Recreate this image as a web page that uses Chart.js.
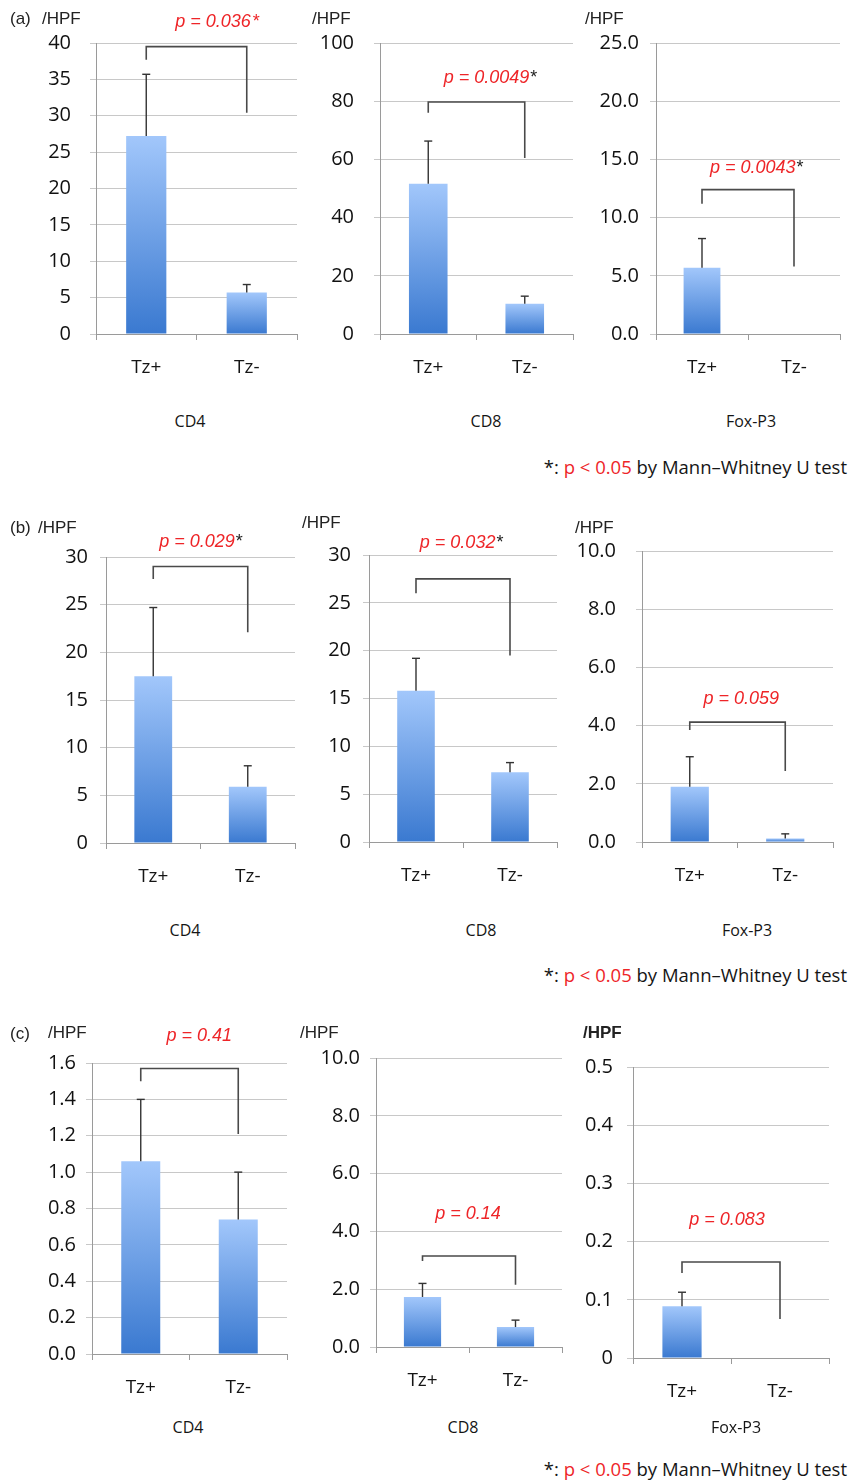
<!DOCTYPE html>
<html><head><meta charset="utf-8">
<script src="https://cdn.jsdelivr.net/npm/chart.js@4"></script>
<style>
body{margin:0;background:#fff;width:850px;height:1484px;position:relative;overflow:hidden;}
.t{position:absolute;white-space:nowrap;line-height:1;color:#222;}
canvas{position:absolute;}
</style></head><body>
<script>
// ---------- data ----------
const categories = ['Tz+', 'Tz-'];

const aCD4Mean = [27.2, 5.7],  aCD4SD = [8.5, 1.1],  aCD4Bracket = [39.5, 37.7, 30.4], aCD4PLabel = [0.70, 42.9];
const aCD8Mean = [51.6, 10.4], aCD8SD = [14.7, 2.6], aCD8Bracket = [79.7, 76.0, 60.5], aCD8PLabel = [0.64, 88.0];
const aFoxMean = [5.7, 0.05],  aFoxSD = [2.5, 0],    aFoxBracket = [12.4, 11.2, 5.8],  aFoxPLabel = [0.59, 14.3];

const bCD4Mean = [17.5, 5.9],  bCD4SD = [7.2, 2.2],  bCD4Bracket = [29.0, 27.7, 22.1], bCD4PLabel = [0.50, 31.6];
const bCD8Mean = [15.8, 7.3],  bCD8SD = [3.4, 1.0],  bCD8Bracket = [27.5, 26.0, 19.5], bCD8PLabel = [0.48, 31.3];
const bFoxMean = [1.9, 0.12],  bFoxSD = [1.03, 0.16],bFoxBracket = [4.12, 3.85, 2.44], bFoxPLabel = [0.54, 4.9];

const cCD4Mean = [1.06, 0.74], cCD4SD = [0.34, 0.26],cCD4Bracket = [1.57, 1.50, 1.21], cCD4PLabel = [0.60, 1.75];
const cCD8Mean = [1.73, 0.69], cCD8SD = [0.47, 0.24],cCD8Bracket = [3.15, 2.98, 2.15], cCD8PLabel = [0.49, 4.6];
const cFoxMean = [0.089, 0],   cFoxSD = [0.024, 0],  cFoxBracket = [0.165, 0.146, 0.067], cFoxPLabel = [0.46, 0.237];

const pTexts = ['p = 0.036', 'p = 0.0049', 'p = 0.0043', 'p = 0.029', 'p = 0.032', 'p = 0.059', 'p = 0.41', 'p = 0.14', 'p = 0.083'];
const pStars = ['*', '*', '*', '*', '*', '', '', '', ''];
const yMaxes = [40, 100, 25, 30, 30, 10, 1.6, 10, 0.5];
const ySteps = [5, 20, 5, 5, 5, 2, 0.2, 2, 0.1];
const yDecimals = [0, 0, 1, 0, 0, 1, 1, 1, 1];
const markerLabels = ['CD4', 'CD8', 'Fox-P3'];

// ---------- panel wiring ----------
const panels = [
  {mean:aCD4Mean, sd:aCD4SD, br:aCD4Bracket, pl:aCD4PLabel, starRed:true},
  {mean:aCD8Mean, sd:aCD8SD, br:aCD8Bracket, pl:aCD8PLabel},
  {mean:aFoxMean, sd:aFoxSD, br:aFoxBracket, pl:aFoxPLabel},
  {mean:bCD4Mean, sd:bCD4SD, br:bCD4Bracket, pl:bCD4PLabel},
  {mean:bCD8Mean, sd:bCD8SD, br:bCD8Bracket, pl:bCD8PLabel},
  {mean:bFoxMean, sd:bFoxSD, br:bFoxBracket, pl:bFoxPLabel},
  {mean:cCD4Mean, sd:cCD4SD, br:cCD4Bracket, pl:cCD4PLabel},
  {mean:cCD8Mean, sd:cCD8SD, br:cCD8Bracket, pl:cCD8PLabel},
  {mean:cFoxMean, sd:cFoxSD, br:cFoxBracket, pl:cFoxPLabel, zeroPlain:true}
];
// layout (pixel geometry of each plot area)
const layouts = [
  {axisX:96,  top:43,   zero:334,  right:297, gap:19},
  {axisX:380, top:43,   zero:334,  right:573, gap:20},
  {axisX:656, top:43,   zero:334,  right:840, gap:11},
  {axisX:106, top:557,  zero:843,  right:295, gap:12},
  {axisX:369, top:555,  zero:842,  right:557, gap:12},
  {axisX:642, top:551,  zero:842,  right:833, gap:20},
  {axisX:92,  top:1063, zero:1354, right:287, gap:10},
  {axisX:376, top:1058, zero:1347, right:562, gap:10},
  {axisX:633, top:1067, zero:1358, right:829, gap:14}
];

const TICK_FONT = {family:'Open Sans', size:20};
const XTICK_FONT = {family:'Open Sans', size:19};

function gradientFill(ctx){
  const chart = ctx.chart;
  if (!chart.chartArea || ctx.type !== 'data') return '#6a9fe6';
  const y = chart.scales.y;
  const top = y.getPixelForValue(ctx.raw), bot = y.getPixelForValue(0);
  if (!(bot - top > 1)) return '#5f95e0';
  const g = chart.ctx.createLinearGradient(0, top, 0, bot);
  g.addColorStop(0, '#a2c7fb');
  g.addColorStop(1, '#3a79d0');
  return g;
}

function extras(P, idx){
  return {
    id: 'extras' + idx,
    afterDatasetsDraw(chart){
      const c = chart.ctx, xs = chart.scales.x, ys = chart.scales.y;
      c.save();
      // error bars
      c.strokeStyle = '#333'; c.lineWidth = 1.4;
      P.mean.forEach((m, i) => {
        const s = P.sd[i]; if (!s) return;
        const x = xs.getPixelForValue(i);
        const y0 = ys.getPixelForValue(m), y1 = ys.getPixelForValue(m + s);
        c.beginPath(); c.moveTo(x, y0); c.lineTo(x, y1); c.stroke();
        c.beginPath(); c.moveTo(x - 4, y1); c.lineTo(x + 4, y1); c.stroke();
      });
      // bracket
      const xl = xs.getPixelForValue(0), xr = xs.getPixelForValue(1);
      c.strokeStyle = '#4a4a4a'; c.lineWidth = 1.6;
      c.beginPath();
      c.moveTo(xl, ys.getPixelForValue(P.br[1]));
      c.lineTo(xl, ys.getPixelForValue(P.br[0]));
      c.lineTo(xr, ys.getPixelForValue(P.br[0]));
      c.lineTo(xr, ys.getPixelForValue(P.br[2]));
      c.stroke();
      // p value label
      const txt = pTexts[idx], star = pStars[idx];
      c.font = 'italic 18px "Liberation Sans"';
      c.textBaseline = 'middle'; c.textAlign = 'left';
      const w1 = c.measureText(txt).width;
      const w2 = star ? c.measureText(star).width : 0;
      const cx = xs.getPixelForValue(P.pl[0]), cy = ys.getPixelForValue(P.pl[1]);
      const x0 = cx - (w1 + w2) / 2;
      c.fillStyle = '#ee2528';
      c.fillText(txt, x0, cy);
      if (star){
        c.font = (P.starRed ? 'italic ' : '') + '18px "Liberation Sans"';
        c.fillStyle = P.starRed ? '#ee2528' : '#222';
        c.fillText(star, x0 + w1 + 1, cy);
      }
      c.restore();
    }
  };
}

panels.forEach((P, i) => {
  const L = layouts[i];
  const YW = 80, PT = 50, PR = 10, XH = 45;
  const cl = L.axisX - YW, ct = L.top - PT;
  const w = L.right - cl + PR, h = L.zero - ct + XH;
  const cv = document.createElement('canvas');
  cv.width = w; cv.height = h;
  cv.style.left = cl + 'px'; cv.style.top = ct + 'px';
  cv.style.width = w + 'px'; cv.style.height = h + 'px';
  document.body.appendChild(cv);
  new Chart(cv, {
    type: 'bar',
    data: {labels: categories, datasets: [{data: P.mean, backgroundColor: gradientFill, borderWidth: 0, barPercentage: 0.4, categoryPercentage: 1}]},
    options: {
      responsive: false, animation: false,
      layout: {padding: {top: PT, right: PR, left: 0, bottom: 0}},
      plugins: {legend: {display: false}, tooltip: {enabled: false}},
      scales: {
        x: {
          grid: {display: true, drawOnChartArea: false, drawTicks: true, tickLength: 6, color: '#9a9a9a', offset: true},
          border: {color: '#9a9a9a', width: 1},
          ticks: {font: XTICK_FONT, color: '#151515', padding: 16},
          afterFit: s => { s.height = XH; }
        },
        y: {
          min: 0, max: yMaxes[i],
          ticks: {
            stepSize: ySteps[i], font: TICK_FONT, color: '#111', padding: L.gap,
            callback: v => (P.zeroPlain && v === 0) ? '0' : Number(v).toFixed(yDecimals[i])
          },
          grid: {color: '#c8c8c8', lineWidth: 1, tickLength: 6},
          border: {color: '#9a9a9a', width: 1},
          afterFit: s => { s.width = YW; }
        }
      }
    },
    plugins: [extras(P, i)]
  });
});

// ---------- text labels ----------
function addText(html, x, y, style, align){
  const d = document.createElement('div');
  d.className = 't';
  d.innerHTML = html;
  Object.assign(d.style, style);
  d.style.top = y + 'px';
  if (align === 'center'){ d.style.left = x + 'px'; d.style.transform = 'translate(-50%,-50%)'; }
  else if (align === 'right'){ d.style.right = (850 - x) + 'px'; d.style.transform = 'translateY(-50%)'; }
  else { d.style.left = x + 'px'; d.style.transform = 'translateY(-50%)'; }
  document.body.appendChild(d);
}
const letterStyle = {fontFamily: '"Liberation Sans"', fontSize: '17px'};
const hpfStyle = {fontFamily: '"Liberation Sans"', fontSize: '17px'};
const catStyle = {fontFamily: '"Open Sans"', fontSize: '16px', color: '#151515'};
const noteStyle = {fontFamily: '"Open Sans"', fontSize: '18.5px', color: '#151515'};

addText('(a)', 10, 18, letterStyle);
addText('(b)', 10, 527, letterStyle);
addText('(c)', 10, 1033, letterStyle);

[[42,18],[312,18],[585,18],[38,527],[302,522],[575,527],[48,1032],[300,1032],[583,1032]].forEach((p, i) => {
  addText('/HPF', p[0], p[1], i === 8 ? Object.assign({fontWeight: 'bold'}, hpfStyle) : hpfStyle);
});

[[190,421],[486,421],[751,421],[185,930],[481,930],[747,930],[188,1427],[463,1427],[736,1427]].forEach((p, i) => {
  addText(markerLabels[i % 3], p[0], p[1], catStyle, 'center');
});

const note = '*: <span style="color:#ee2528">p &lt; 0.05</span> by Mann–Whitney U test';
[467, 975, 1469].forEach(y => addText(note, 847, y, noteStyle, 'right'));
</script>
</body></html>
